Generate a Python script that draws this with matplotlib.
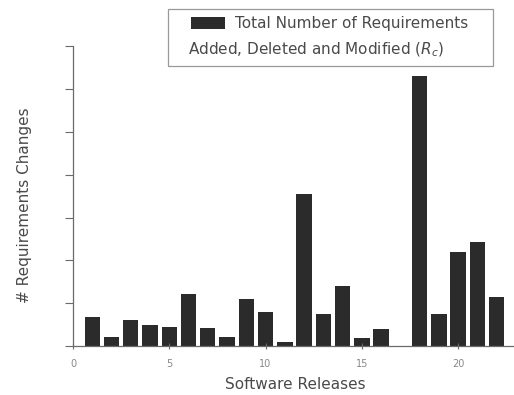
"""
Bar chart of requirement changes per software release.
"""

import matplotlib.pyplot as plt
from matplotlib.patches import Rectangle


# 1. Chart data (y in tick units x 10)

releases = list(range(1, 23))

requirement_changes = [
    6.7, 2.1, 6.0, 4.9, 4.4, 12.1, 4.2, 2.1, 10.9, 7.9, 1.0,
    35.6, 7.4, 14.0, 1.9, 4.0, 0.0, 63.0, 7.4, 21.9, 24.4, 11.4
]

x_ticks = [0, 5, 10, 15, 20]
y_ticks = [0, 10, 20, 30, 40, 50, 60, 70]

legend_line_1 = "Total Number of Requirements"
legend_line_2 = "Added, Deleted and Modified ($R_c$)"


# 2. Styles

BAR_COLOR = "#2b2b2b"
TEXT_COLOR = "#4a4a4a"
AXIS_COLOR = "#6a6a6a"
FONT_SIZE = 11


# 3. Draw figure

fig = plt.figure(figsize=(5.14, 3.95), dpi=100)
ax = fig.add_axes([0.142, 0.124, 0.858, 0.759])

ax.bar(
    releases,
    requirement_changes,
    width=0.8,
    color=BAR_COLOR,
    label=legend_line_1
)

ax.set_xlim(0, 22.9)
ax.set_ylim(0, 70)

ax.set_xticks(x_ticks)
ax.set_yticks(y_ticks)
ax.set_yticklabels([])

ax.tick_params(
    axis="x",
    direction="inout",
    length=5,
    width=0.8,
    color=AXIS_COLOR,
    labelsize=7,
    labelcolor="#888888",
    pad=7
)
ax.tick_params(
    axis="y",
    direction="out",
    length=6,
    width=0.8,
    color=AXIS_COLOR
)

for side in ["top", "right"]:
    ax.spines[side].set_visible(False)

for side in ["left", "bottom"]:
    ax.spines[side].set_color(AXIS_COLOR)
    ax.spines[side].set_linewidth(0.9)

ax.set_xlabel(
    "Software Releases",
    fontsize=FONT_SIZE,
    color=TEXT_COLOR,
    va="center"
)
ax.xaxis.set_label_coords(0.503, -0.13)

ax.set_ylabel(
    "# Requirements Changes",
    fontsize=FONT_SIZE,
    color=TEXT_COLOR,
    va="center"
)
ax.yaxis.set_label_coords(-0.109, 0.47)


# 4. Legend box with two text lines

legend = fig.legend(
    loc="upper left",
    bbox_to_anchor=(0.36, 0.975),
    frameon=False,
    fontsize=FONT_SIZE,
    handlelength=2.2,
    handleheight=0.85,
    handletextpad=0.7,
    borderaxespad=0
)
for text in legend.get_texts():
    text.set_color(TEXT_COLOR)

fig.text(
    0.366, 0.873,
    legend_line_2,
    fontsize=FONT_SIZE,
    color=TEXT_COLOR,
    va="center",
    ha="left"
)

fig.patches.append(
    Rectangle(
        (0.327, 0.833),
        0.632,
        0.145,
        transform=fig.transFigure,
        fill=False,
        edgecolor="#999999",
        linewidth=0.9
    )
)

fig.savefig("out.png", dpi=100)
